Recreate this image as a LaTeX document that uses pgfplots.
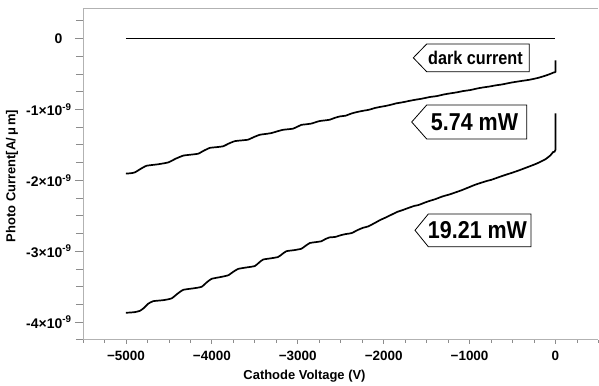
\documentclass[border=0pt]{standalone}
\usepackage{fontspec}
\setmainfont{Liberation Sans}
\newfontfamily\narrowfont[FakeStretch=0.88]{Liberation Sans}
\usepackage{pgfplots}
\pgfplotsset{compat=1.18}
\begin{document}
\begin{tikzpicture}
\begin{axis}[
  scale only axis, width=515.4bp, height=331.1bp,
  xmin=-5500, xmax=500, ymin=-4.25e-9, ymax=0.42e-9,
  axis x line*=box, axis y line*=left,
  xtick pos=left, ytick pos=left,
  tick align=outside,
  axis line style={draw=black!30, line width=0.8bp},
  tick style={draw=black!45, line width=0.8bp},
  scaled x ticks=false, scaled y ticks=false,
  xtick={-5000,-4000,-3000,-2000,-1000,0},
  xticklabels={−5000,−4000,−3000,−2000,−1000,0},
  minor xtick={-5500,-5250,...,500},
  ytick={-4e-9,-3e-9,-2e-9,-1e-9,0},
  yticklabels={-4×10\textsuperscript{-9},-3×10\textsuperscript{-9},-2×10\textsuperscript{-9},-1×10\textsuperscript{-9},0\hphantom{\textsuperscript{-9}}},
  minor ytick={-4.25e-9,-3.75e-9,-3.5e-9,-3.25e-9,-2.75e-9,-2.5e-9,-2.25e-9,-1.75e-9,-1.5e-9,-1.25e-9,-0.75e-9,-0.5e-9,-0.25e-9,0.25e-9},
  major tick length=8bp, minor tick length=7bp,
  xtick style={/pgfplots/major tick length=4bp,/pgfplots/minor tick length=3bp},
  xticklabel style={font=\bfseries\fontsize{13.5}{15}\selectfont},
  yticklabel style={font=\bfseries\fontsize{14}{16}\selectfont},
  clip=false,
]
% dark current
\addplot[black, line width=1.7bp] coordinates {(-5000,0) (0,0)};
% 5.74 mW
\addplot[black, line width=1.7bp, smooth, tension=0.3] coordinates {
(-5000,-1.906e-9) (-4940,-1.900e-9) (-4895,-1.888e-9) (-4830,-1.840e-9) (-4760,-1.795e-9)
(-4630,-1.775e-9) (-4508,-1.748e-9) (-4420,-1.695e-9) (-4333,-1.652e-9) (-4240,-1.638e-9)
(-4159,-1.625e-9) (-4090,-1.580e-9) (-4023,-1.543e-9) (-3940,-1.532e-9) (-3868,-1.520e-9)
(-3800,-1.480e-9) (-3733,-1.448e-9) (-3650,-1.437e-9) (-3578,-1.427e-9) (-3510,-1.390e-9)
(-3442,-1.358e-9) (-3370,-1.346e-9) (-3306,-1.334e-9) (-3240,-1.310e-9) (-3171,-1.288e-9)
(-3110,-1.280e-9) (-3055,-1.272e-9) (-3005,-1.245e-9) (-2957,-1.218e-9) (-2900,-1.210e-9)
(-2841,-1.200e-9) (-2790,-1.180e-9) (-2744,-1.164e-9) (-2690,-1.156e-9) (-2628,-1.146e-9)
(-2570,-1.120e-9) (-2512,-1.100e-9) (-2440,-1.088e-9) (-2380,-1.060e-9) (-2320,-1.040e-9)
(-2241,-1.020e-9) (-2170,-1.005e-9) (-2100,-0.980e-9) (-2040,-0.965e-9) (-1970,-0.950e-9)
(-1900,-0.930e-9) (-1853,-0.915e-9) (-1780,-0.900e-9) (-1700,-0.880e-9) (-1640,-0.866e-9)
(-1560,-0.850e-9) (-1500,-0.835e-9) (-1465,-0.826e-9) (-1380,-0.812e-9) (-1300,-0.790e-9)
(-1240,-0.777e-9) (-1160,-0.762e-9) (-1100,-0.748e-9) (-1078,-0.742e-9) (-990,-0.727e-9)
(-910,-0.705e-9) (-850,-0.692e-9) (-770,-0.678e-9) (-700,-0.662e-9) (-620,-0.648e-9)
(-540,-0.628e-9) (-480,-0.615e-9) (-400,-0.600e-9) (-302,-0.582e-9) (-200,-0.555e-9)
(-108,-0.521e-9) (-50,-0.495e-9) (-20,-0.478e-9) (0,-0.470e-9) (0,-0.310e-9)};
% 19.21 mW
\addplot[black, line width=1.7bp, smooth, tension=0.3] coordinates {
(-5000,-3.869e-9) (-4900,-3.860e-9) (-4837,-3.841e-9) (-4790,-3.800e-9) (-4740,-3.740e-9)
(-4682,-3.705e-9) (-4560,-3.690e-9) (-4469,-3.666e-9) (-4400,-3.600e-9) (-4333,-3.545e-9)
(-4220,-3.525e-9) (-4120,-3.503e-9) (-4060,-3.440e-9) (-4003,-3.390e-9) (-3900,-3.365e-9)
(-3810,-3.340e-9) (-3750,-3.290e-9) (-3694,-3.250e-9) (-3600,-3.230e-9) (-3500,-3.210e-9)
(-3450,-3.160e-9) (-3403,-3.118e-9) (-3310,-3.100e-9) (-3229,-3.082e-9) (-3180,-3.040e-9)
(-3132,-3.000e-9) (-3040,-2.985e-9) (-2957,-2.965e-9) (-2910,-2.925e-9) (-2860,-2.885e-9)
(-2790,-2.872e-9) (-2725,-2.860e-9) (-2680,-2.830e-9) (-2628,-2.805e-9) (-2567,-2.800e-9)
(-2500,-2.775e-9) (-2440,-2.758e-9) (-2373,-2.745e-9) (-2300,-2.700e-9) (-2240,-2.670e-9)
(-2179,-2.650e-9) (-2100,-2.600e-9) (-2040,-2.560e-9) (-1985,-2.530e-9) (-1900,-2.480e-9)
(-1840,-2.445e-9) (-1790,-2.425e-9) (-1700,-2.385e-9) (-1640,-2.360e-9) (-1597,-2.350e-9)
(-1500,-2.305e-9) (-1450,-2.285e-9) (-1403,-2.268e-9) (-1320,-2.230e-9) (-1270,-2.212e-9)
(-1228,-2.198e-9) (-1150,-2.165e-9) (-1092,-2.140e-9) (-1000,-2.095e-9) (-950,-2.070e-9)
(-899,-2.048e-9) (-800,-2.010e-9) (-750,-1.995e-9) (-704,-1.975e-9) (-610,-1.935e-9)
(-560,-1.915e-9) (-510,-1.896e-9) (-420,-1.858e-9) (-370,-1.835e-9) (-317,-1.811e-9)
(-220,-1.765e-9) (-122,-1.707e-9) (-60,-1.650e-9) (-26,-1.600e-9) (0,-1.570e-9) (0,-1.058e-9)};
\coordinate (O) at (rel axis cs:0,1);
\end{axis}
\begin{scope}[shift={(O)}, x=1bp, y=-1bp, shift={(-83,-8.7)}]
  % callouts
  \draw[line width=0.8bp, fill=white] (413.3,57.8) -- (426.7,44) -- (529.3,44) -- (529.3,71.7) -- (426.7,71.7) -- cycle;
  \node[font=\narrowfont\bfseries\fontsize{18.5}{20}\selectfont, inner sep=0pt] at (475.5,57.8) {dark current};
  \draw[line width=0.8bp, fill=white] (411.7,122) -- (426.7,105) -- (526.7,105) -- (526.7,139) -- (426.7,139) -- cycle;
  \node[font=\narrowfont\bfseries\fontsize{24.5}{26}\selectfont, inner sep=0pt] at (474.5,122) {5.74 mW};
  \draw[line width=0.8bp, fill=white] (415,230.3) -- (428.3,214) -- (531,214) -- (531,246.7) -- (428.3,246.7) -- cycle;
  \node[font=\narrowfont\bfseries\fontsize{24.5}{26}\selectfont, inner sep=0pt] at (477.5,230.3) {19.21 mW};
  % axis labels
  \node[font=\bfseries\fontsize{13}{15}\selectfont, inner sep=0pt] at (304.5,376) {Cathode Voltage (V)};
  \node[font=\bfseries\fontsize{13}{15}\selectfont, inner sep=0pt, rotate=90] at (12,176) {Photo Current[A/\,μ\,m]};
  \pgfresetboundingbox
  \path (0,0) rectangle (599,385);
\end{scope}
\end{tikzpicture}
\end{document}
